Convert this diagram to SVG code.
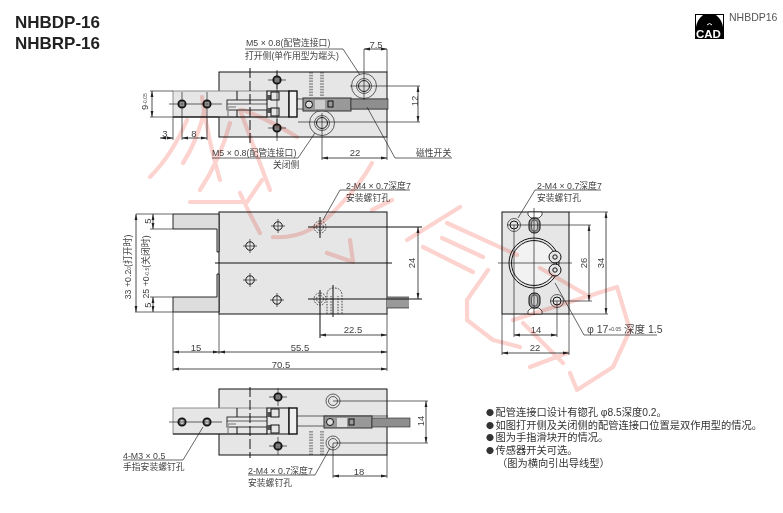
<svg xmlns="http://www.w3.org/2000/svg" xmlns:xlink="http://www.w3.org/1999/xlink" width="783" height="513" viewBox="0 0 783 513">
<style>
text{font-family:"Liberation Sans","Noto Sans CJK SC",sans-serif;fill:#444;font-size:9.5px}
.cj{font-size:8.8px;fill:#444}
.note{font-size:10.25px;fill:#333}
.bu{font-family:"Noto Sans CJK SC",sans-serif;font-size:8px}
.ti{font-size:17px;font-weight:bold;fill:#222}
.b{fill:#e6e6e6;stroke:#111;stroke-width:1}
.n{fill:none;stroke:#111;stroke-width:1}
.t{fill:none;stroke:#222;stroke-width:.7}
.d{fill:none;stroke:#222;stroke-width:.8;stroke-dasharray:1.6 1.2}
.c{fill:none;stroke:#111;stroke-width:1}
.dim{fill:none;stroke:#222;stroke-width:.8;marker-start:url(#as);marker-end:url(#ae)}
.wm{fill:none;stroke:#fcd3cf;stroke-width:4.200;stroke-linecap:round;stroke-linejoin:round;mix-blend-mode:multiply}
</style>
<defs>
<marker id="ae" markerWidth="7" markerHeight="4" refX="6" refY="2" orient="auto" markerUnits="userSpaceOnUse"><path d="M0 .6L6 2L0 3.4z" fill="#222"/></marker>
<marker id="as" markerWidth="7" markerHeight="4" refX="0" refY="2" orient="auto" markerUnits="userSpaceOnUse"><path d="M6 .6L0 2L6 3.4z" fill="#222"/></marker>
<g id="cross"><circle r="4.200" class="n"/><path d="M-7 0H7M0-7V7" class="t"/></g>
<g id="screw"><circle r="3.800" fill="#666" stroke="#111" stroke-width="1.600"/><circle r="1.800" fill="#e6e6e6"/><path d="M-9 0H9M0-9V9" class="t"/></g>
<g id="port"><circle r="12.500" class="t"/><circle r="7.500" class="t"/><circle r="5.500" fill="#ddd" stroke="#222" stroke-width="1"/></g>
<g id="dcross"><circle r="6" class="d"/><circle r="3.500" class="d"/></g>
<g id="mech">
<rect x="173" y="91" width="94" height="26" fill="#e6e6e6" stroke="#777" stroke-width=".8"/>
<path d="M173 117H267M237 91V117" class="n"/>
<rect x="227" y="100" width="68" height="10" fill="#e8e8e8" stroke="#222" stroke-width=".9"/>
<path d="M227 104H288" class="t"/>
<path d="M228 116V107H236" fill="none" stroke="#999" stroke-width="1.600"/>
<rect x="267" y="91" width="22" height="26" fill="#e6e6e6" stroke="#111"/>
<rect x="267" y="95" width="4" height="5" fill="#555"/><rect x="267" y="108" width="4" height="5" fill="#555"/>
<rect x="271" y="92" width="8" height="8" fill="none" stroke="#111"/><rect x="271" y="108" width="8" height="8" fill="none" stroke="#111"/>
<rect x="289" y="91" width="8" height="26" fill="#f0f0f0" stroke="#111" stroke-width="1.400"/>
<path d="M297 99H388M297 109H388" class="t"/>
</g>
<g id="slit"><path d="M0 0V24M2 0V24M11 0V24M13 0V24" class="d"/></g>
</defs>
<rect width="783" height="513" fill="#fff"/>

<g id="title"><text class="ti" x="15" y="28">NHBDP-16</text><text class="ti" x="15" y="49">NHBRP-16</text></g>
<g id="cad"><rect x="695" y="14" width="29" height="25" fill="#000"/><path d="M696 15H703Q697 20 696 27zM723 15H716Q722 20 723 27z" fill="#fff"/><path d="M707 25Q709.500 22 712 25" stroke="#fff" fill="none"/><text x="696" y="37.500" style="font-size:11.500px;font-weight:bold;fill:#fff">CAD</text><text x="729" y="21" style="font-size:10.500px;fill:#555">NHBDP16</text></g>

<g id="view-top">
<rect x="219" y="72" width="168" height="65" class="b"/>
<use xlink:href="#slit" x="310" y="72"/>
<use xlink:href="#mech"/>
<path d="M250 68V143" class="c" stroke-dasharray="10 3"/>
<path d="M277 70V141" class="t"/>
<use xlink:href="#screw" x="277" y="80"/><use xlink:href="#screw" x="277" y="128"/>
<circle cx="182" cy="104" r="3.800" fill="#666" stroke="#111" stroke-width="1.500"/><circle cx="182" cy="104" r="2" fill="#ddd"/>
<circle cx="207" cy="104" r="3.800" fill="#666" stroke="#111" stroke-width="1.500"/><circle cx="207" cy="104" r="2" fill="#ddd"/>
<path d="M169 104H222" class="t"/>
<use xlink:href="#port" x="364" y="86"/><use xlink:href="#port" x="322" y="123"/>
<rect x="303" y="98" width="48" height="13" fill="#999" stroke="#333"/><circle cx="309" cy="104.500" r="3.500" fill="#ddd" stroke="#111"/><rect x="328" y="101" width="5" height="6" fill="none" stroke="#111"/><rect x="315" y="100" width="10" height="9" fill="#ccc"/>
<rect x="351" y="99" width="37" height="10" fill="#8e8e8e" stroke="#222" stroke-width=".6"/>
</g>

<g id="view-mid">
<rect x="219" y="212" width="168" height="102" class="b"/>
<path d="M219 214H173V229H217V252H219V214z" fill="#ddd" stroke="#111" stroke-width=".9"/>
<path d="M219 312H173V297H217V274H219V312z" fill="#ddd" stroke="#111" stroke-width=".9"/>
<rect x="387" y="297" width="22" height="11" fill="#999"/><path d="M387 297H409M387 308H409" class="t"/>
<use xlink:href="#cross" x="278" y="226"/><use xlink:href="#cross" x="250" y="246"/><use xlink:href="#cross" x="250" y="280"/><use xlink:href="#cross" x="277" y="300"/>
<use xlink:href="#dcross" x="320" y="227"/><use xlink:href="#dcross" x="320" y="299"/>
<path d="M327 314V295Q327 288 334 288Q342 288 342 296V314M331 314V296M338 314V296" class="d"/>
<path d="M215 263H392M308 227H422M308 299H422M320 217V238M320 290V338M333 285V317" class="n"/>
</g>

<g id="view-right">
<rect x="502" y="212" width="67" height="102" class="b"/>
<path d="M528 212V215L531 218H539L542 215V212zM528 314V311L531 308H539L542 311V314z" fill="#fff" stroke="#222" stroke-width=".8"/>
<circle cx="534" cy="263" r="25" fill="none" stroke="#111" stroke-width="1"/><circle cx="534" cy="263" r="22.500" fill="#f2f2f2" stroke="#111" stroke-width="1"/>
<circle cx="555" cy="257" r="6" fill="#e6e6e6" stroke="#111"/><circle cx="555" cy="270" r="6" fill="#e6e6e6" stroke="#111"/><circle cx="555" cy="257" r="2.200" class="n"/><circle cx="555" cy="270" r="2.200" class="n"/>
<circle cx="514" cy="225" r="6.500" class="t"/><circle cx="514" cy="225" r="4" class="n"/>
<rect x="529" y="218" width="11" height="15" rx="5" fill="#999" stroke="#111"/><rect x="531.500" y="220" width="6" height="11" rx="3" fill="#ccc" stroke="#222" stroke-width=".6"/>
<rect x="529" y="293" width="11" height="15" rx="5" fill="#999" stroke="#111"/><rect x="531.500" y="295" width="6" height="11" rx="3" fill="#ccc" stroke="#222" stroke-width=".6"/>
<circle cx="557" cy="301" r="6.500" class="t"/><circle cx="557" cy="301" r="4" class="n"/>
<path d="M534 208V315M498 263H572M507 225H591M550 301H592" class="t"/>
</g>

<g id="view-bottom">
<rect x="219" y="389" width="168" height="66" class="b"/>
<use xlink:href="#slit" x="310" y="431"/>
<use xlink:href="#mech" y="317"/>
<path d="M250 387V458" class="c" stroke-dasharray="10 3"/>
<use xlink:href="#screw" x="278" y="397"/><use xlink:href="#screw" x="278" y="446"/>
<circle cx="182" cy="422" r="3.800" fill="#666" stroke="#111" stroke-width="1.500"/><circle cx="182" cy="422" r="2" fill="#ddd"/>
<circle cx="207" cy="422" r="3.800" fill="#666" stroke="#111" stroke-width="1.500"/><circle cx="207" cy="422" r="2" fill="#ddd"/>
<path d="M169 422H222" class="t"/>
<circle cx="333" cy="401" r="7" class="t"/><circle cx="333" cy="401" r="4.500" class="t"/><circle cx="333" cy="443" r="7" class="t"/><circle cx="333" cy="443" r="4.500" class="t"/>
<rect x="324" y="416" width="48" height="12" fill="#999" stroke="#333"/><circle cx="330" cy="422" r="3.500" fill="#ddd" stroke="#111"/><rect x="337" y="418" width="10" height="9" fill="#ddd"/><rect x="349" y="419" width="5" height="6" fill="none" stroke="#111"/>
<rect x="372" y="418" width="38" height="9" fill="#8e8e8e" stroke="#222" stroke-width=".6"/>
</g>

<g id="connectors">
<path class="t" d="M364 49V100M350 86H420M298 122H420M322 113V160M387 49V72M387 137V160M150 91H173M150 117H219M173 117V140M182 92V140M207 92V140"/>
<path class="dim" d="M364 49H387"/><path class="dim" d="M418 86V122"/><path class="dim" d="M322 158H387"/><path class="dim" d="M152 91V117"/><path class="dim" d="M160 138H173"/><path class="dim" d="M182 138H207"/>
<path class="t" d="M245 49H343L360 75M212 158H298L315 133M452 158H395L367 107"/>
<path class="t" d="M136 214H173M150 229H173M150 297H173M135 312H173M173 312V371M219 314V354M387 314V371"/>
<path class="dim" d="M136 214V312"/><path class="dim" d="M153 214V229"/><path class="dim" d="M153 297V312"/><path class="dim" d="M418 227V299"/><path class="dim" d="M320 335H387"/><path class="dim" d="M173 352H219"/><path class="dim" d="M219 352H387"/><path class="dim" d="M173 369H387"/>
<path class="t" d="M410 190H340L323 220"/>
<path class="t" d="M569 212H608M569 314H608M514 225V337M557 301V337M502 314V355M569 314V355"/>
<path class="dim" d="M589 225V301"/><path class="dim" d="M606 212V314"/><path class="dim" d="M514 335H557"/><path class="dim" d="M502 353H569"/>
<path class="t" d="M601 190H535L518 218M657 335H584L555 283"/>
<path class="t" d="M333 401H428M333 443H428M333 443V478M387 455V478M123 460H183L203 427M248 475H315L330 448"/>
<path class="dim" d="M426 401V443"/><path class="dim" d="M333 476H387"/>
</g>

<g id="labels">
<text x="246" y="46" class="cj">M5 × 0.8(配管连接口)</text>
<text x="245" y="59" class="cj">打开侧(单作用型为端头)</text>
<text x="376" y="48" text-anchor="middle">7.5</text>
<text transform="translate(417.500 101) rotate(-90)" text-anchor="middle">12</text>
<text x="355" y="156" text-anchor="middle">22</text>
<text x="165" y="137" text-anchor="middle">3</text><text x="194" y="137" text-anchor="middle">8</text>
<text transform="translate(148 110) rotate(-90)">9<tspan font-size="5" dy="-1">-0.05</tspan></text>
<text x="212" y="156" class="cj">M5 × 0.8(配管连接口)</text>
<text x="273" y="168" class="cj">关闭侧</text>
<text x="416" y="156" class="cj">磁性开关</text>
<text x="346" y="189" class="cj">2-M4 × 0.7深度7</text><text x="346" y="201" class="cj">安装螺钉孔</text>
<text x="537" y="189" class="cj">2-M4 × 0.7深度7</text><text x="537" y="201" class="cj">安装螺钉孔</text>
<text transform="translate(131 267) rotate(-90)" text-anchor="middle" class="cj">33 +0.2<tspan font-size="5">0</tspan>(打开时)</text>
<text transform="translate(149 267) rotate(-90)" text-anchor="middle" class="cj">25 +0<tspan font-size="5">-0.5</tspan>(关闭时)</text>
<text transform="translate(151 221) rotate(-90)" text-anchor="middle">5</text><text transform="translate(151 305) rotate(-90)" text-anchor="middle">5</text>
<text transform="translate(415 263) rotate(-90)" text-anchor="middle">24</text>
<text x="353" y="333" text-anchor="middle">22.5</text>
<text x="196" y="351" text-anchor="middle">15</text><text x="300" y="351" text-anchor="middle">55.5</text><text x="281" y="368" text-anchor="middle">70.5</text>
<text transform="translate(587 263) rotate(-90)" text-anchor="middle">26</text><text transform="translate(604 263) rotate(-90)" text-anchor="middle">34</text>
<text x="536" y="333" text-anchor="middle">14</text><text x="535" y="351" text-anchor="middle">22</text>
<text x="587" y="333" style="font-size:10.500px">φ 17<tspan font-size="5" dy="-2">+0.05</tspan><tspan dy="2"> 深度 1.5</tspan></text>
<text transform="translate(424 421) rotate(-90)" text-anchor="middle">14</text>
<text x="359" y="475" text-anchor="middle">18</text>
<text x="123" y="459" class="cj">4-M3 × 0.5</text><text x="123" y="470" class="cj">手指安装螺钉孔</text>
<text x="248" y="474" class="cj">2-M4 × 0.7深度7</text><text x="248" y="486" class="cj">安装螺钉孔</text>
</g>

<g id="notes">
<text class="note" x="486" y="416"><tspan class="bu">●</tspan><tspan dx="1.500">配管连接口设计有锪孔 φ8.5深度0.2。</tspan></text>
<text class="note" x="486" y="429"><tspan class="bu">●</tspan><tspan dx="1.500">如图打开侧及关闭侧的配管连接口位置是双作用型的情况。</tspan></text>
<text class="note" x="486" y="441"><tspan class="bu">●</tspan><tspan dx="1.500">图为手指滑块开的情况。</tspan></text>
<text class="note" x="486" y="454"><tspan class="bu">●</tspan><tspan dx="1.500">传感器开关可选。</tspan></text>
<text class="note" x="497" y="467">（图为横向引出导线型）</text>
</g>

<g id="watermark">
<path class="wm" d="M187 120Q172 155 150 177M205 108Q198 140 183 163M230 123Q220 160 200 190M202 97Q208 140 220 180M240 110Q255 150 270 190M243 110Q270 120 297 137M190 202H247L262 180M240 193Q250 215 260 233"/>
<path class="wm" d="M273 237Q310 240 340 205Q360 185 372 163M327 253L353 262L350 240M407 240L460 207M447 223L517 255M442 238L483 257M423 247L473 272M488 270L467 300V320L493 340L520 347M540 268L590 297M513 320L617 287L630 330L613 367L577 390L570 373M530 367L567 353M523 323L563 363M372 210L392 200"/>
</g>
</svg>
